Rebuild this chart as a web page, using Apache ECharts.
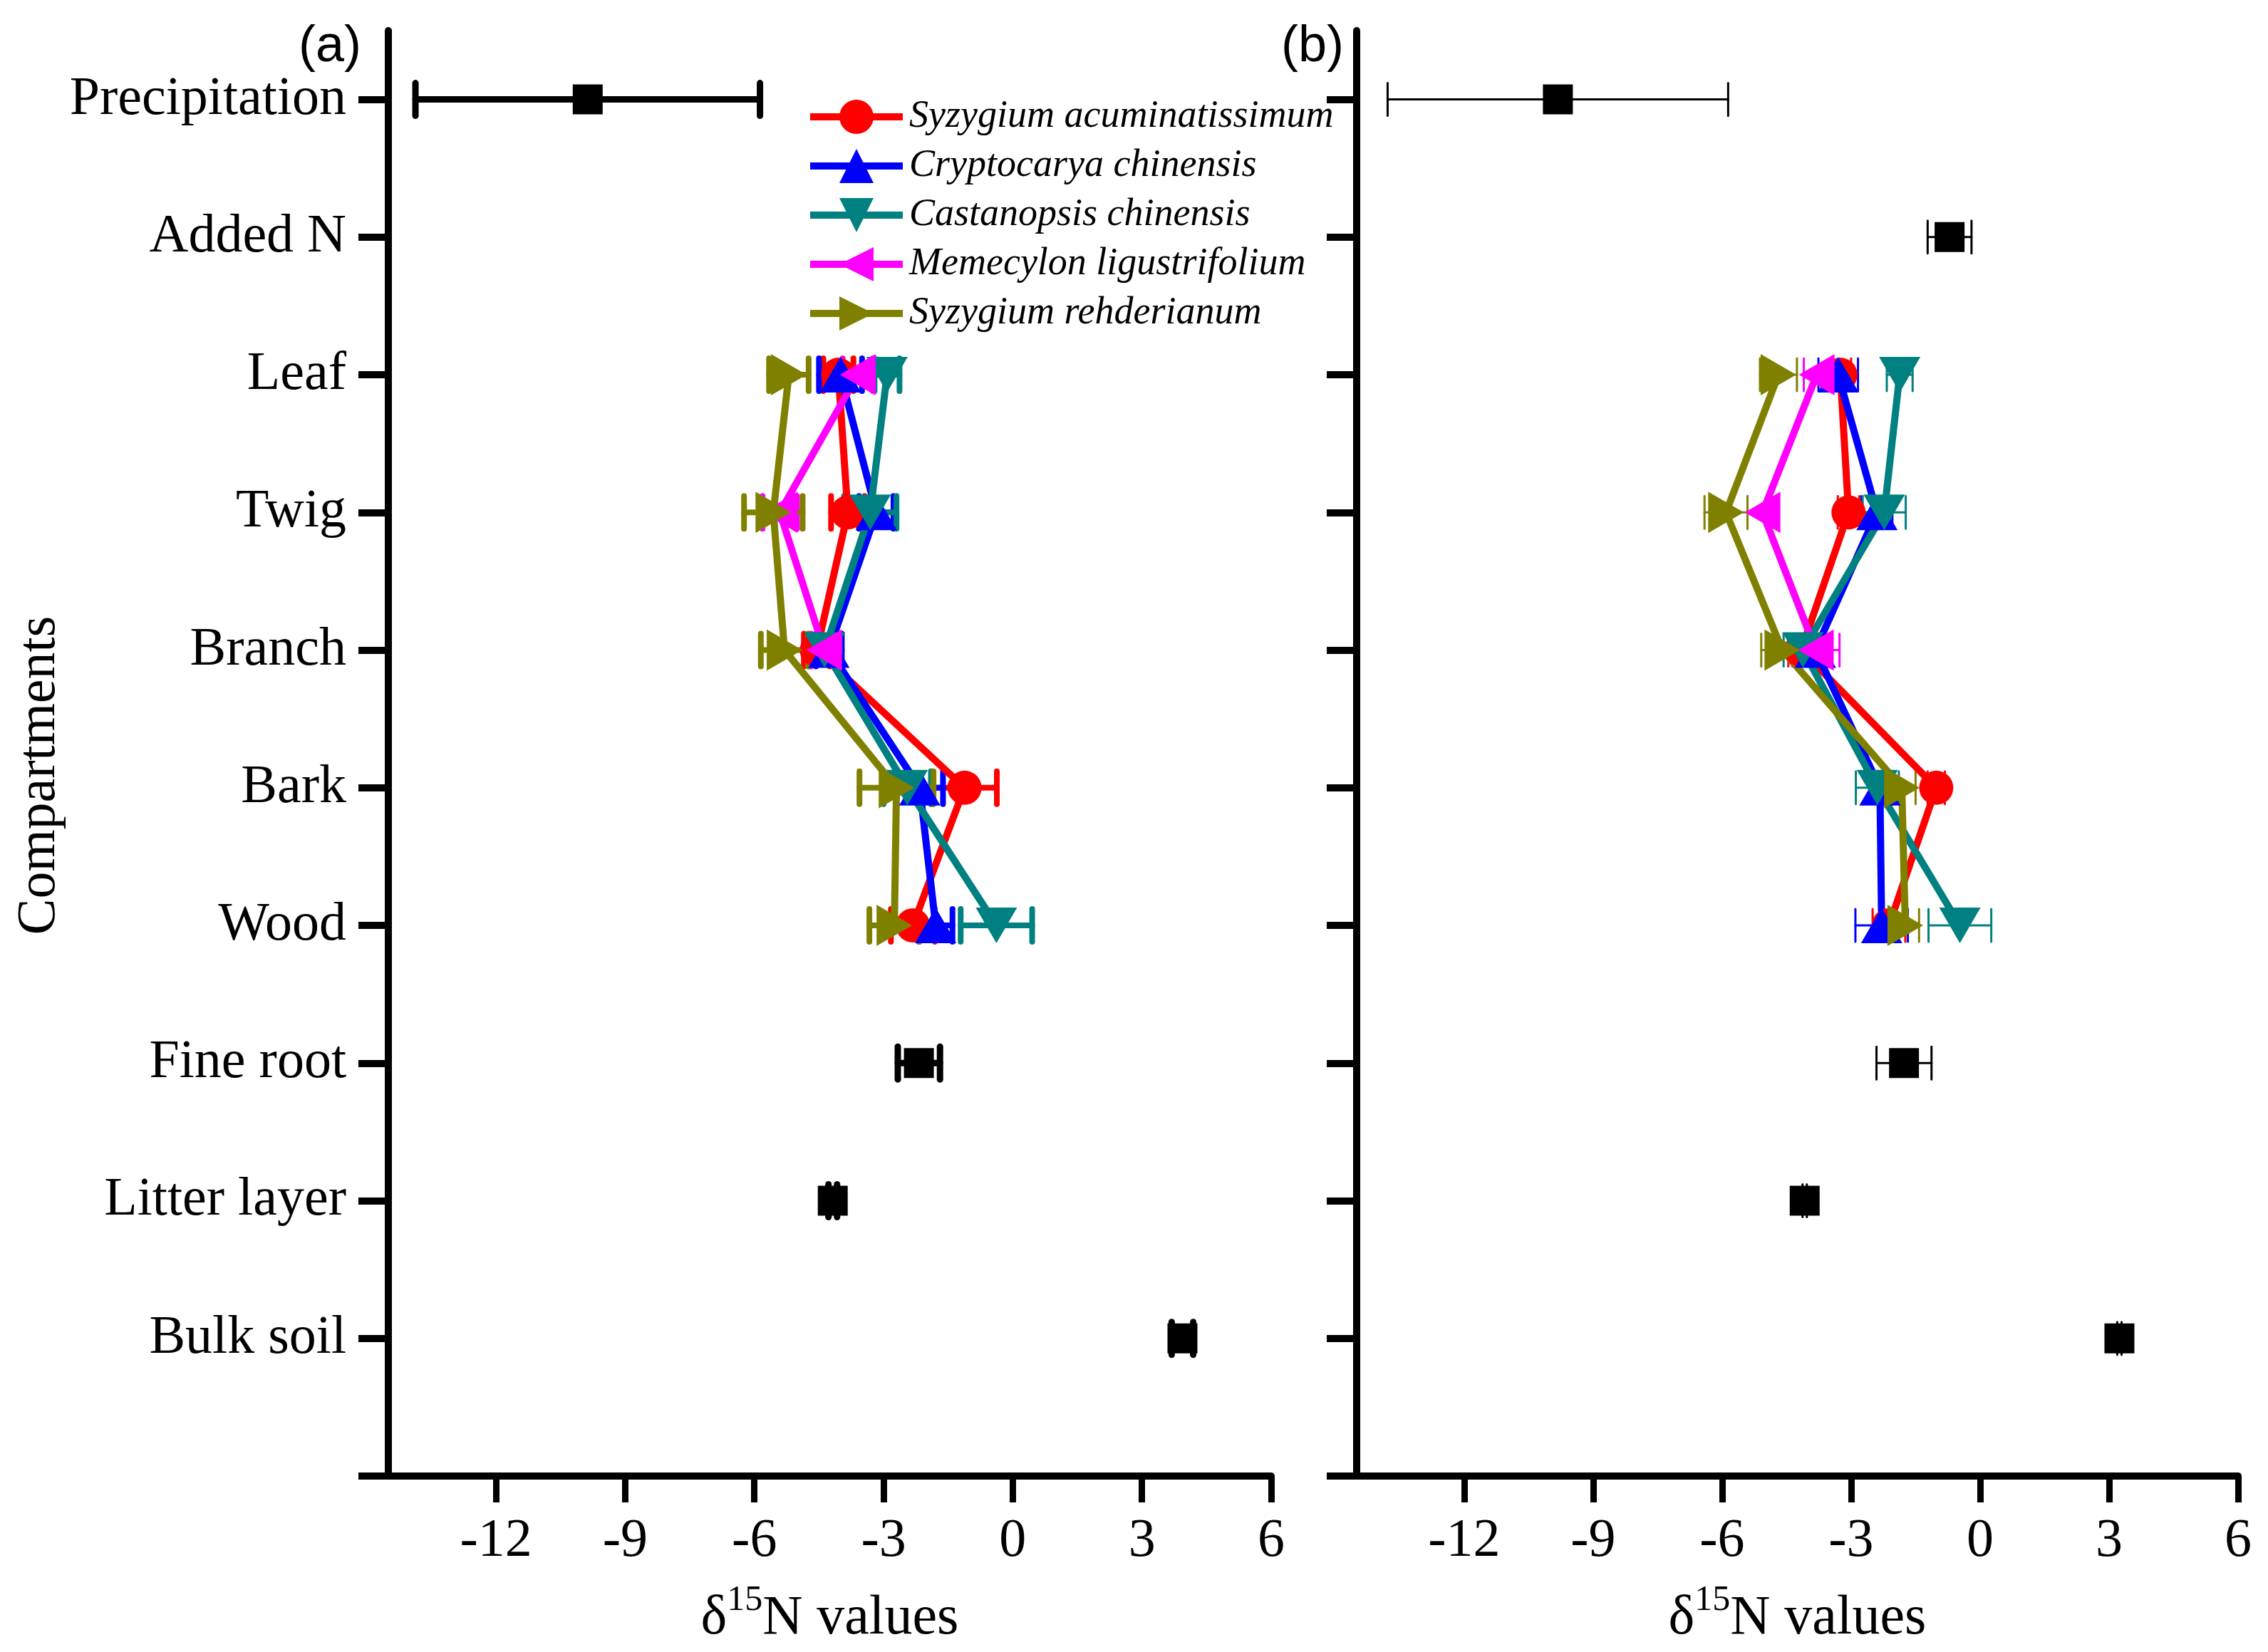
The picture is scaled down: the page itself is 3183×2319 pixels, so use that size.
<!DOCTYPE html>
<html>
<head>
<meta charset="utf-8">
<script src="https://cdn.jsdelivr.net/npm/echarts@6/dist/echarts.min.js"></script>
<style>
  html, body { margin: 0; padding: 0; background: #fff; }
  #main { width: 3183px; height: 2319px; }
</style>
</head>
<body>
<div id="main"></div>
<script>
// rows of the y axis, top to bottom
var cats = ['Precipitation', 'Added N', 'Leaf', 'Twig', 'Branch', 'Bark', 'Wood', 'Fine root', 'Litter layer', 'Bulk soil'];
var tickRows = [0, 1, 2, 3, 4, 5, 6, 7, 8, 9, 10];
var labelRows = [0, 1, 2, 3, 4, 5, 6, 7, 8, 9];
var xTicks = [-12, -9, -6, -3, 0, 3, 6];

// plant organs: Leaf, Twig, Branch, Bark, Wood
var organRows = [2, 3, 4, 5, 6];
var species = ['Syzygium acuminatissimum', 'Cryptocarya chinensis', 'Castanopsis chinensis', 'Memecylon ligustrifolium', 'Syzygium rehderianum'];
var colors = ['#ff0000', '#0000ff', '#008080', '#ff00ff', '#808000'];
var symbols = ['circle', 'triangle', 'triangle', 'triangle', 'triangle'];
var rotates = [0, 0, 180, 90, -90];

// panel (a)
var meanA = [
  [-4.05, -3.83, -4.55, -1.12, -2.32],
  [-4.0, -3.17, -4.27, -2.16, -1.79],
  [-2.92, -3.31, -4.37, -2.45, -0.38],
  [-3.6, -5.41, -4.38],
  [-5.2, -5.56, -5.3, -2.7, -2.75]
];
var errA = [
  [0.35, 0.39, 0.3, 0.75, 0.51],
  [0.5, 0.4, 0.3, 0.54, 0.39],
  [0.29, 0.61, 0.35, 0.55, 0.83],
  [0.35, 0.4, 0.3],
  [0.46, 0.68, 0.55, 0.86, 0.58]
];
var poolRowsA = [0, 7, 8, 9];
var poolMeanA = [-9.87, -2.18, -4.18, 3.94];
var poolErrA = [4.0, 0.49, 0.1, 0.25];

// panel (b)
var meanB = [
  [-3.25, -3.06, -4.16, -1.02, -2.12],
  [-3.3, -2.4, -3.83, -2.33, -2.29],
  [-1.87, -2.23, -4.12, -2.39, -0.47],
  [-3.8, -5.06, -3.82],
  [-4.69, -5.91, -4.6, -1.82, -1.74]
];
var errB = [
  [0.25, 0.25, 0.3, 0.2, 0.38],
  [0.46, 0.36, 0.35, 0.12, 0.61],
  [0.3, 0.5, 0.45, 0.5, 0.73],
  [0.3, 0.35, 0.55],
  [0.43, 0.5, 0.49, 0.32, 0.32]
];
var poolRowsB = [0, 1, 7, 8, 9];
var poolMeanB = [-9.82, -0.71, -1.77, -4.08, 3.24];
var poolErrB = [3.96, 0.51, 0.64, 0.05, 0.05];

var serif = '"Liberation Serif", "Times New Roman", serif';

var chartDom = document.getElementById('main');
var myChart = echarts.init(chartDom);
var option;

// horizontal error bar with end caps
function errRender(w) {
  return function (params, api) {
    var v = api.value(0), r = api.value(1), e = api.value(2);
    var p1 = api.coord([v - e, r]);
    var p2 = api.coord([v + e, r]);
    var h = 23;
    var st = { stroke: api.visual('color'), lineWidth: w, lineCap: 'round', fill: null };
    return {
      type: 'group',
      children: [
        { type: 'line', shape: { x1: p1[0], y1: p1[1], x2: p2[0], y2: p2[1] }, style: st },
        { type: 'line', shape: { x1: p1[0], y1: p1[1] - h, x2: p1[0], y2: p1[1] + h }, style: st },
        { type: 'line', shape: { x1: p2[0], y1: p2[1] - h, x2: p2[0], y2: p2[1] + h }, style: st }
      ]
    };
  };
}

function symSize(i) {
  return symbols[i] === 'circle' ? 48 : [58, 50];
}

function panelSeries(idx, mean, err, errWidth, poolRows, poolMean, poolErr) {
  var out = [];
  species.forEach(function (name, i) {
    var pts = mean[i].map(function (v, k) { return [v, organRows[k]]; });
    var bars = mean[i].map(function (v, k) { return [v, organRows[k], err[i][k]]; });
    out.push({
      name: name,
      type: 'line',
      xAxisIndex: idx,
      yAxisIndex: idx,
      data: pts,
      symbol: symbols[i],
      symbolSize: symSize(i),
      symbolRotate: rotates[i],
      lineStyle: { color: colors[i], width: 10 },
      itemStyle: { color: colors[i], opacity: 1 },
      emphasis: { disabled: true }
    });
    out.push({
      name: name + ' err',
      type: 'custom',
      xAxisIndex: idx,
      yAxisIndex: idx,
      data: bars,
      encode: { x: 0, y: 1 },
      itemStyle: { color: colors[i] },
      renderItem: errRender(errWidth)
    });
  });
  out.push({
    name: 'pool',
    type: 'scatter',
    xAxisIndex: idx,
    yAxisIndex: idx,
    data: poolMean.map(function (v, k) { return [v, poolRows[k]]; }),
    symbol: 'rect',
    symbolSize: 42,
    itemStyle: { color: '#000', opacity: 1 },
    emphasis: { disabled: true }
  });
  out.push({
    name: 'pool err',
    type: 'custom',
    xAxisIndex: idx,
    yAxisIndex: idx,
    data: poolMean.map(function (v, k) { return [v, poolRows[k], poolErr[k]]; }),
    encode: { x: 0, y: 1 },
    itemStyle: { color: '#000' },
    renderItem: errRender(errWidth === 8 ? 9 : 3)
  });
  return out;
}

function xAxisCfg(idx) {
  return {
    type: 'value',
    gridIndex: idx,
    position: 'bottom',
    min: -14.5,
    max: 6,
    axisLine: { show: true, onZero: false, lineStyle: { color: '#000', width: 10 } },
    axisTick: { show: true, length: 37, customValues: xTicks, lineStyle: { color: '#000', width: 9 } },
    axisLabel: { customValues: xTicks, fontFamily: serif, fontSize: 76, color: '#000', margin: 54 },
    splitLine: { show: false },
    name: '{a|δ}{b|15}{a|N values}',
    nameLocation: 'middle',
    nameGap: 150,
    nameTextStyle: {
      rich: {
        a: { fontFamily: serif, fontSize: 78, color: '#000', lineHeight: 90, verticalAlign: 'bottom' },
        b: { fontFamily: serif, fontSize: 50, color: '#000', lineHeight: 50, verticalAlign: 'top' }
      }
    }
  };
}

function yAxisCfg(idx, showLabels) {
  return {
    type: 'value',
    gridIndex: idx,
    position: 'left',
    inverse: true,
    min: -0.5,
    max: 10,
    axisLine: { show: true, onZero: false, lineStyle: { color: '#000', width: 10 } },
    axisTick: { show: true, length: 42, customValues: tickRows, lineStyle: { color: '#000', width: 10 } },
    axisLabel: {
      show: showLabels,
      customValues: labelRows,
      formatter: function (v) { return cats[v]; },
      fontFamily: serif,
      fontSize: 76,
      color: '#000',
      margin: 59
    },
    splitLine: { show: false },
    name: showLabels ? 'Compartments' : '',
    nameLocation: 'middle',
    nameRotate: 90,
    nameGap: 449,
    nameTextStyle: { fontFamily: serif, fontSize: 76, color: '#000', padding: [0, 62, 0, 0] }
  };
}

option = {
  backgroundColor: '#fff',
  animation: false,
  grid: [
    { left: 545, top: 43, width: 1239, height: 2029 },
    { left: 1904, top: 43, width: 1237, height: 2029 }
  ],
  xAxis: [xAxisCfg(0), xAxisCfg(1)],
  yAxis: [yAxisCfg(0, true), yAxisCfg(1, false)],
  legend: {
    data: species,
    orient: 'vertical',
    left: 1127,
    top: 129,
    itemWidth: 130,
    itemHeight: 60,
    itemGap: 9,
    lineStyle: { width: 10 },
    itemStyle: { opacity: 1 },
    textStyle: { fontFamily: serif, fontStyle: 'italic', fontSize: 54, color: '#000', lineHeight: 60, padding: [0, 0, 0, 4] }
  },
  graphic: [
    { type: 'text', x: 507, y: 66, style: { text: '(a)', align: 'right', verticalAlign: 'middle', fontFamily: '"Liberation Sans", Arial, sans-serif', fontSize: 72, fill: '#000' } },
    { type: 'text', x: 1886, y: 66, style: { text: '(b)', align: 'right', verticalAlign: 'middle', fontFamily: '"Liberation Sans", Arial, sans-serif', fontSize: 72, fill: '#000' } }
  ],
  series: panelSeries(0, meanA, errA, 8, poolRowsA, poolMeanA, poolErrA)
    .concat(panelSeries(1, meanB, errB, 3, poolRowsB, poolMeanB, poolErrB))
};

option && myChart.setOption(option);
</script>
</body>
</html>
